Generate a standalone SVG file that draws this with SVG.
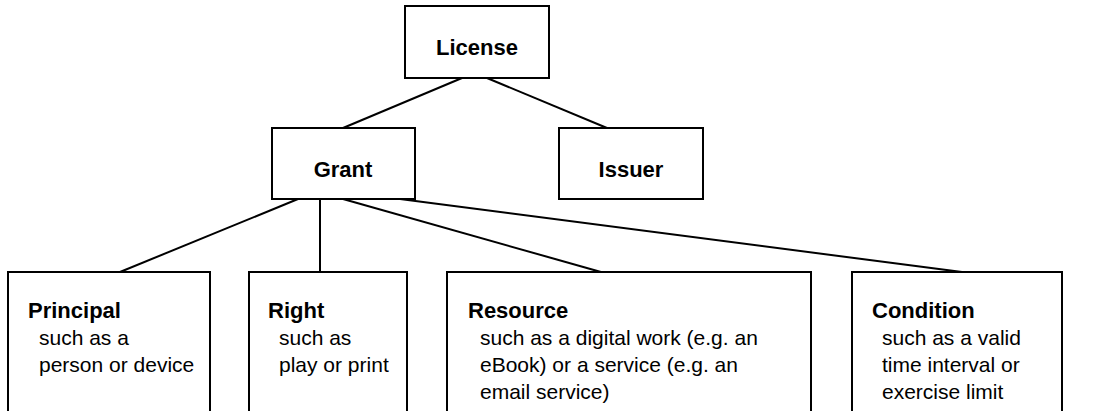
<svg xmlns="http://www.w3.org/2000/svg" width="1101" height="411" viewBox="0 0 1101 411">
<style>
.box{fill:#fff;stroke:#000;stroke-width:2}
.ln{stroke:#000;stroke-width:2;fill:none}
.h{font-family:"Liberation Sans",Arial,sans-serif;font-weight:bold;font-size:22px;fill:#000}
.t{font-family:"Liberation Sans",Arial,sans-serif;font-size:21px;fill:#000}
</style>
<rect width="1101" height="411" fill="#fff"/>
<g id="connectors">
<line class="ln" x1="462" y1="78" x2="343" y2="128"/>
<line class="ln" x1="487" y1="78" x2="607" y2="128"/>
<line class="ln" x1="298" y1="199" x2="120" y2="272"/>
<line class="ln" x1="320" y1="199" x2="320" y2="272"/>
<line class="ln" x1="343" y1="199" x2="601" y2="272"/>
<line class="ln" x1="400" y1="199" x2="962" y2="272"/>
</g>
<g id="license">
<rect class="box" x="405" y="6" width="144" height="72"/>
<text class="h" x="477" y="55" text-anchor="middle">License</text>
</g>
<g id="grant">
<rect class="box" x="272" y="128" width="143" height="71"/>
<text class="h" x="343" y="177" text-anchor="middle">Grant</text>
</g>
<g id="issuer">
<rect class="box" x="559" y="128" width="144" height="71"/>
<text class="h" x="631" y="177" text-anchor="middle">Issuer</text>
</g>
<g id="principal">
<rect class="box" x="8" y="272" width="202" height="150"/>
<text class="h" x="28" y="318">Principal</text>
<text class="t" x="39" y="345">such as a</text>
<text class="t" x="39" y="372">person or device</text>
</g>
<g id="right">
<rect class="box" x="249" y="272" width="158" height="150"/>
<text class="h" x="268" y="318">Right</text>
<text class="t" x="279" y="345">such as</text>
<text class="t" x="279" y="372">play or print</text>
</g>
<g id="resource">
<rect class="box" x="447" y="272" width="364" height="150"/>
<text class="h" x="468" y="318">Resource</text>
<text class="t" x="480" y="345">such as a digital work (e.g. an</text>
<text class="t" x="480" y="372">eBook) or a service (e.g. an</text>
<text class="t" x="480" y="399">email service)</text>
</g>
<g id="condition">
<rect class="box" x="852" y="272" width="210" height="150"/>
<text class="h" x="872" y="318">Condition</text>
<text class="t" x="882" y="345">such as a valid</text>
<text class="t" x="882" y="372">time interval or</text>
<text class="t" x="882" y="399">exercise limit</text>
</g>
</svg>
